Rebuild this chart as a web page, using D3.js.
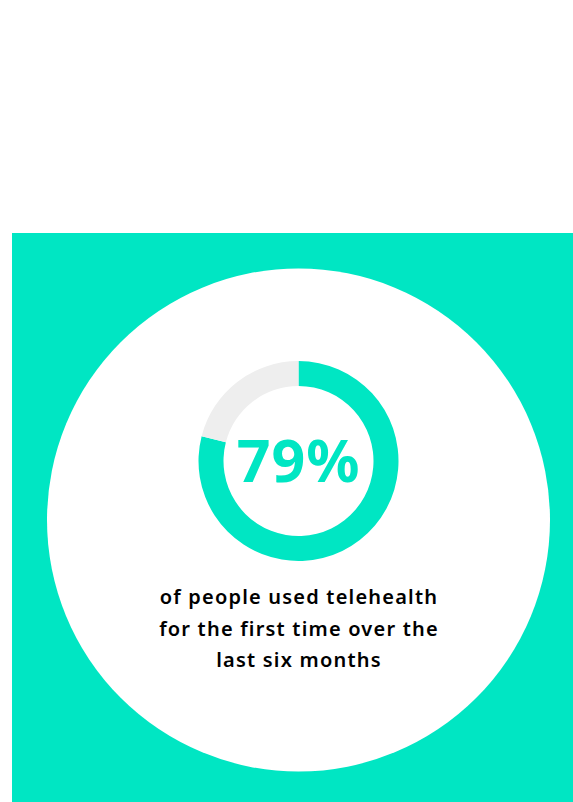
<!DOCTYPE html>
<html>
<head>
<meta charset="utf-8">
<script src="https://cdn.jsdelivr.net/npm/d3@7"></script>
<style>
html,body{margin:0;padding:0;background:#ffffff;}
svg{display:block;}
</style>
</head>
<body>
<svg id="chart" width="573" height="802"></svg>
<script>
const categories = ["Used telehealth for the first time", "Did not"];
const values = [79, 21];
const headline = "79%";
const captionLines = ["of people used telehealth", "for the first time over the", "last six months"];

const teal = "#00E6C3";
const grey = "#EEEEEE";

const svg = d3.select("#chart");
const W = 573, H = 802;

// teal panel
svg.append("rect").attr("x", 12).attr("y", 233).attr("width", W - 12).attr("height", H - 233).attr("fill", teal);

// large white circle
svg.append("circle").attr("cx", 298.5).attr("cy", 520).attr("r", 251.5).attr("fill", "#ffffff");

// donut
const g = svg.append("g").attr("transform", "translate(298.5,461)");
const pie = d3.pie().sort(null).value(d => d);
const arc = d3.arc().innerRadius(75).outerRadius(100);
const color = d3.scaleOrdinal().domain(categories).range([teal, grey]);
g.selectAll("path").data(pie(values)).join("path")
  .attr("d", arc)
  .attr("fill", (d, i) => color(categories[i]));

g.append("text")
  .attr("x", 0).attr("y", 21)
  .attr("text-anchor", "middle")
  .attr("font-family", "'Noto Sans', Lato, sans-serif")
  .attr("font-weight", 700)
  .attr("font-size", 59)
  .attr("letter-spacing", 1)
  .attr("fill", teal)
  .text(headline);

const cap = svg.append("text")
  .attr("text-anchor", "middle")
  .attr("font-family", "'Noto Sans', Lato, sans-serif")
  .attr("font-weight", 600)
  .attr("font-size", 20)
  .attr("letter-spacing", 1.2)
  .attr("fill", "#000000");
captionLines.forEach((t, i) => {
  cap.append("tspan").attr("x", 299).attr("y", 604 + i * 31.5).text(t);
});
</script>
</body>
</html>
